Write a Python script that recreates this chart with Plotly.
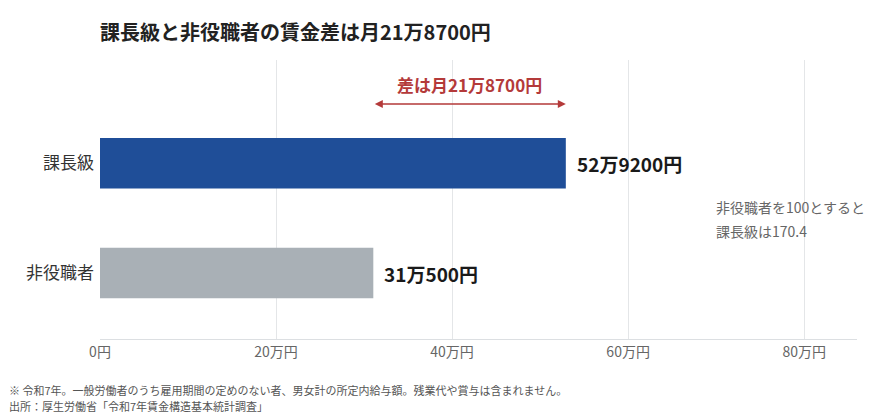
import plotly.graph_objects as go

# データ
categories = ["非役職者", "課長級"]
wages = [310500, 529200]
wage_labels = ["31万500円", "52万9200円"]
bar_colors = ["#a9b0b6", "#1f4e98"]
tick_vals = [0, 200000, 400000, 600000, 800000]
tick_text = ["0円", "20万円", "40万円", "60万円", "80万円"]
diff_label = "差は月21万8700円"
index_note = ["非役職者を100とすると", "課長級は170.4"]
footnotes = [
    "※ 令和7年。一般労働者のうち雇用期間の定めのない者、男女計の所定内給与額。残業代や賞与は含まれません。",
    "出所：厚生労働省「令和7年賃金構造基本統計調査」",
]

FONT = "Noto Sans CJK JP"
W, H = 870, 416
ML, MR, MT, MB = 100, 13, 60, 77
PW, PH = W - ML - MR, H - MT - MB


def px(x, y):
    # ピクセル位置 -> paper 座標
    return (x - ML) / PW, 1 - (y - MT) / PH


fig = go.Figure()
fig.add_trace(go.Bar(
    y=categories, x=wages, orientation="h",
    marker=dict(color=bar_colors, line=dict(width=0)),
    width=0.46, hoverinfo="skip",
))

# 棒の右の金額
for cat, v, lab in zip(categories, wages, wage_labels):
    fig.add_annotation(
        x=v, y=cat, xref="x", yref="y", text="<b>%s</b>" % lab,
        showarrow=False, xanchor="left", xshift=9,
        font=dict(size=19, color="#1a1a1a", family=FONT),
    )

# 差を示す矢印
fig.add_annotation(
    x=wages[1], y=1.54, ax=wages[0], ay=1.54,
    xref="x", yref="y", axref="x", ayref="y",
    text="", showarrow=True, arrowside="end+start",
    arrowhead=2, arrowsize=1, arrowwidth=1.6, arrowcolor="#b43a3a",
)
fig.add_annotation(
    x=(wages[0] + wages[1]) / 2, y=1.72, xref="x", yref="y",
    text="<b>%s</b>" % diff_label, showarrow=False,
    font=dict(size=17, color="#b43a3a", family=FONT),
)

# 右側の注記
for txt, ypix in zip(index_note, [207, 231]):
    ax_, ay_ = px(714, ypix)
    fig.add_annotation(
        x=ax_, y=ay_, xref="paper", yref="paper", text=txt,
        showarrow=False, xanchor="left", yanchor="middle",
        font=dict(size=14, color="#666666", family=FONT),
    )

# 脚注
for txt, ypix in zip(footnotes, [390, 406]):
    ax_, ay_ = px(7, ypix)
    fig.add_annotation(
        x=ax_, y=ay_, xref="paper", yref="paper", text=txt,
        showarrow=False, xanchor="left", yanchor="middle",
        font=dict(size=11, color="#555555", family=FONT),
    )

fig.update_layout(
    width=W, height=H,
    margin=dict(l=ML, r=MR, t=MT, b=MB),
    paper_bgcolor="white", plot_bgcolor="white",
    showlegend=False,
    font=dict(family=FONT),
    title=dict(
        text="<b>課長級と非役職者の賃金差は月21万8700円</b>",
        x=ML / W, xanchor="left", y=1 - 33 / H, yanchor="middle",
        font=dict(size=20, color="#222222", family=FONT),
    ),
    xaxis=dict(
        range=[0, 860000], tickvals=tick_vals, ticktext=tick_text,
        showgrid=True, gridcolor="#e4e6e8", gridwidth=1,
        zeroline=False, showline=True, linecolor="#dcdfe2",
        tickfont=dict(size=14, color="#666666"), ticks="",
        automargin=False, fixedrange=True,
    ),
    yaxis=dict(
        range=[-0.6, 1.94], showgrid=False, zeroline=False,
        tickfont=dict(size=17, color="#333333"), ticks="",
        ticklabelstandoff=5,
        automargin=False, fixedrange=True,
    ),
)

fig.write_html("out.html", config={"displayModeBar": False},
               post_script="document.body.style.margin='0';")
